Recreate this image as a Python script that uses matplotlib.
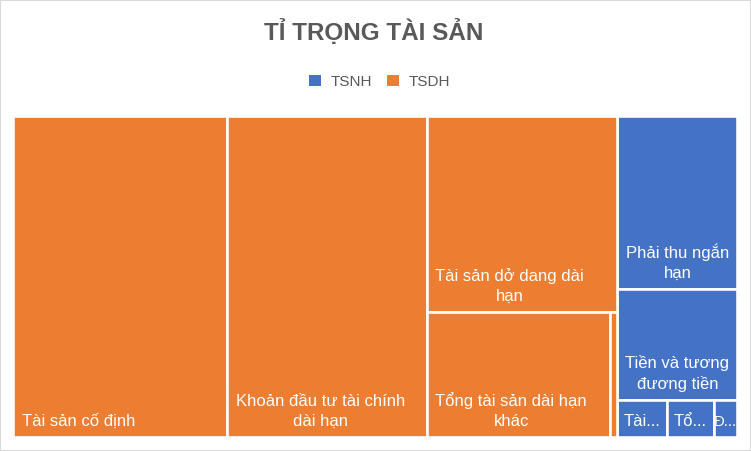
import matplotlib
matplotlib.use("Agg")
import matplotlib.pyplot as plt
from matplotlib.patches import Rectangle, Patch

# ---------------- data ----------------
title = "TỈ TRỌNG TÀI SẢN"
groups = ["TSNH", "TSDH"]
group_colors = ["#4472C4", "#ED7D31"]

tsnh_names = ["Phải thu ngắn hạn", "Tiền và tương đương tiền", "Tài sản ngắn hạn khác",
              "Tổng hàng tồn kho", "Đầu tư tài chính ngắn hạn"]
tsnh_values = [8.92, 5.71, 0.80, 0.74, 0.38]
tsnh_labels = ["Phải thu ngắn\nhạn", "Tiền và tương\nđương tiền", "Tài...", "Tổ...", "Đ..."]

tsdh_names = ["Tài sản cố định", "Khoản đầu tư tài chính dài hạn", "Tài sản dở dang dài hạn",
              "Tổng tài sản dài hạn khác", "Bất động sản đầu tư"]
tsdh_values = [29.57, 27.56, 16.09, 9.85, 0.38]
tsdh_labels = ["Tài sản cố định", "Khoản đầu tư tài chính\ndài hạn", "Tài sản dở dang dài\nhạn",
               "Tổng tài sản dài hạn\nkhác", ""]

group_values = [tsnh_values, tsdh_values]
group_labels = [tsnh_labels, tsdh_labels]


# ---------------- squarified treemap layout ----------------
def worst(row, side):
    s = sum(row)
    return max(max(side * side * r / (s * s), s * s / (side * side * r)) for r in row)


def place_row(row, x, y, w, h):
    rects = []
    s = sum(row)
    if w >= h:
        cw = s / h
        yy = y
        for r in row:
            rh = r / cw
            rects.append((x, yy, cw, rh))
            yy += rh
        return rects, (x + cw, y, w - cw, h)
    rh = s / w
    xx = x
    for r in row:
        rw = r / rh
        rects.append((xx, y, rw, rh))
        xx += rw
    return rects, (x, y + rh, w, h - rh)


def squarify(values, x, y, w, h):
    total = float(sum(values))
    areas = [v * w * h / total for v in values]
    order = sorted(range(len(values)), key=lambda i: -values[i])
    rects = [None] * len(values)
    row = []
    rect = (x, y, w, h)
    for i in order:
        side = min(rect[2], rect[3])
        cur = [areas[j] for j in row]
        if not row or worst(cur + [areas[i]], side) <= worst(cur, side):
            row.append(i)
        else:
            placed, rect = place_row(cur, *rect)
            for j, r in zip(row, placed):
                rects[j] = r
            row = [i]
    placed, rect = place_row([areas[j] for j in row], *rect)
    for j, r in zip(row, placed):
        rects[j] = r
    return rects


# ---------------- figure ----------------
W, H, DPI = 751, 451, 100
plt.rcParams["font.family"] = ["Liberation Sans", "DejaVu Sans"]
fig = plt.figure(figsize=(W / DPI, H / DPI), dpi=DPI)
fig.patch.set_facecolor("white")
renderer = fig.canvas.get_renderer()

GAP = 2.6  # white border width in px
half = GAP / 2
ax_l, ax_r, ax_t, ax_b = 14 - half, 736 + half, 117 - half, 436 + half
aw, ah = ax_r - ax_l, ax_b - ax_t
ax = fig.add_axes([ax_l / W, (H - ax_b) / H, aw / W, ah / H])
ax.set_xlim(0, aw)
ax.set_ylim(ah, 0)
ax.axis("off")

group_totals = [sum(v) for v in group_values]
group_rects = squarify(group_totals, 0, 0, aw, ah)

lw_pt = GAP * 72 / DPI
PAD_X, PAD_Y = 7.5, 8.0  # px
FS = 12
for gi, (gx, gy, gw, gh) in enumerate(group_rects):
    rects = squarify(group_values[gi], gx, gy, gw, gh)
    for (x, y, w, h), lab in zip(rects, group_labels[gi]):
        ax.add_patch(Rectangle((x, y), w, h, facecolor=group_colors[gi],
                               edgecolor="white", linewidth=lw_pt))
        if lab:
            t = ax.annotate(lab, xy=(x + half, y + h), xycoords="data",
                            xytext=(PAD_X * 72 / DPI, PAD_Y * 72 / DPI),
                            textcoords="offset points",
                            ha="left", va="bottom", multialignment="center",
                            color="white", fontsize=FS,
                            linespacing=1.42, annotation_clip=False)
            tw = t.get_window_extent(renderer).width
            vis_w = w - GAP
            if tw + 2 * PAD_X > vis_w:
                if tw > vis_w + 1.5:
                    t.set_fontsize(FS * (vis_w + 1.5) / tw)
                    tw = t.get_window_extent(renderer).width
                px = (vis_w - tw) / 2
                t.set_position((px * 72 / DPI, PAD_Y * 72 / DPI))

fig.text(373.5 / W, 1 - 40 / H, title, ha="center", va="baseline",
         fontsize=17.5, fontweight="bold", color="#595959")

handles = [Patch(facecolor=c, edgecolor="none", label=g) for g, c in zip(groups, group_colors)]
leg = fig.legend(handles=handles, loc="center", bbox_to_anchor=(379.5 / W, 1 - 82 / H),
                 ncol=2, frameon=False, fontsize=11, handlelength=0.78, handleheight=0.78,
                 handletextpad=0.6, columnspacing=1.0, borderaxespad=0)
for t in leg.get_texts():
    t.set_color("#595959")

fig.add_artist(Rectangle((0, 0), 1, 1, transform=fig.transFigure, fill=False,
                         edgecolor="#D9D9D9", linewidth=1.5))

fig.savefig("out.png", dpi=DPI)
